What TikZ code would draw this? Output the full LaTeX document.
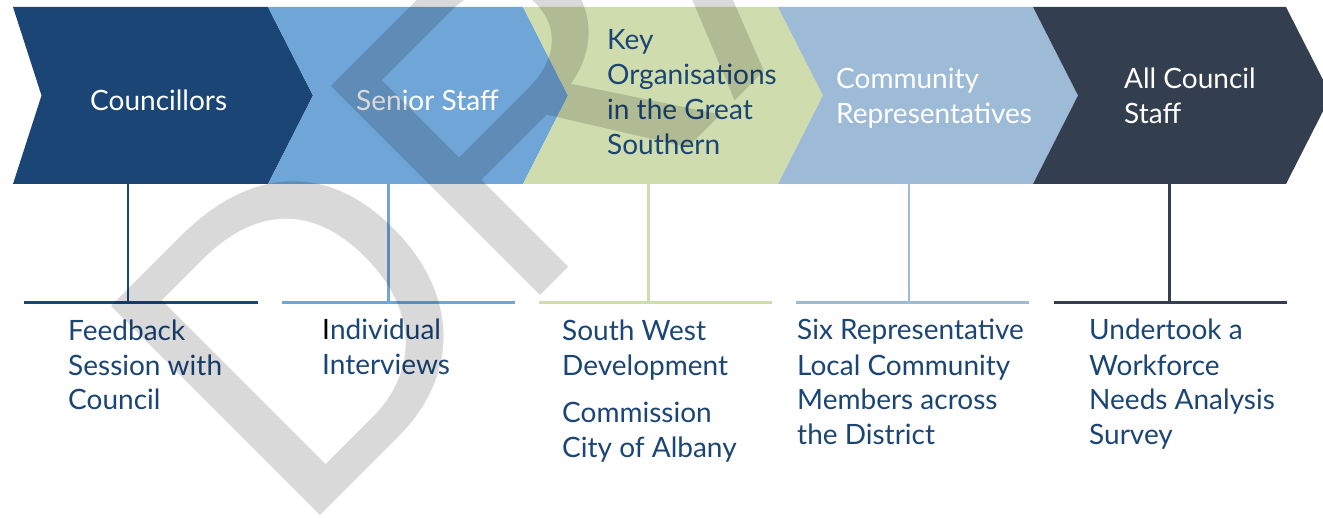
\documentclass[tikz,border=0pt]{standalone}
\usepackage{fontspec}
\setmainfont{Lato}
\newfontfamily\wmfont{Liberation Sans}
\definecolor{cone}{HTML}{1B4575}
\definecolor{ctwo}{HTML}{6FA5D7}
\definecolor{cthree}{HTML}{CFDCAE}
\definecolor{cfour}{HTML}{9DBAD6}
\definecolor{cfive}{HTML}{333F4F}
\definecolor{navy}{HTML}{1B4575}
\begin{document}
\begin{tikzpicture}[x=1pt,y=-1pt,
  lbl/.style={anchor=base west, inner sep=0pt, align=left, font=\fontsize{28}{35}\selectfont},
  stem/.style={line width=2.6pt},
  bar/.style={line width=3pt},
  wmark/.style={inner sep=0pt, anchor=base west, rotate=45, text=black, opacity=0.15, font=\wmfont\fontsize{430}{430}\selectfont}]
\useasboundingbox (0,0) rectangle (1323,518);
\clip (0,0) rectangle (1323,518);
% chevrons
\fill[cone]   (13,7) -- (268,7) -- (313,95.5) -- (268,184) -- (13,184) -- (41.5,95.5) -- cycle;
\fill[ctwo]   (268,7) -- (523,7) -- (568,95.5) -- (523,184) -- (268,184) -- (313,95.5) -- cycle;
\fill[cthree] (523,7) -- (778,7) -- (823,95.5) -- (778,184) -- (523,184) -- (568,95.5) -- cycle;
\fill[cfour]  (778,7) -- (1033,7) -- (1078,95.5) -- (1033,184) -- (778,184) -- (823,95.5) -- cycle;
\fill[cfive]  (1033,7) -- (1286,7) -- (1331,95.5) -- (1286,184) -- (1033,184) -- (1078,95.5) -- cycle;
% chevron labels (anchored at the baseline of the last line)
\node[lbl, text=white] (h1) at (90,111) {Councillors};
\node[lbl, text=white] (h2) at (356,111) {Senior Staff};
\node[lbl, text=navy]  (h3) at (607,155) {Key\\Organisations\\in the Great\\Southern};
\node[lbl, text=white] (h4) at (836,123.5) {Community\\Representatives};
\node[lbl, text=white] (h5) at (1124,123.5) {All Council\\Staff};
% connector coordinates
\coordinate (t1) at (128,183);  \coordinate (j1) at (128,302.5);
\coordinate (t2) at (388.3,183);  \coordinate (j2) at (388.3,302.5);
\coordinate (t3) at (648.6,183);  \coordinate (j3) at (648.6,302.5);
\coordinate (t4) at (909,183);  \coordinate (j4) at (909,302.5);
\coordinate (t5) at (1169.5,183); \coordinate (j5) at (1169.5,302.5);
\coordinate (l1) at (24,302.5);   \coordinate (r1) at (257.5,302.5);
\coordinate (l2) at (281.5,302.5);  \coordinate (r2) at (514.5,302.5);
\coordinate (l3) at (539,302.5);  \coordinate (r3) at (772,302.5);
\coordinate (l4) at (796,302.5);  \coordinate (r4) at (1029,302.5);
\coordinate (l5) at (1053.5,302.5); \coordinate (r5) at (1286.5,302.5);
\draw[stem, cone]   (t1) -- (j1);
\draw[stem, ctwo]   (t2) -- (j2);
\draw[stem, cthree] (t3) -- (j3);
\draw[stem, cfour]  (t4) -- (j4);
\draw[stem, cfive]  (t5) -- (j5);
\draw[bar, cone]   (l1) -- (r1);
\draw[bar, ctwo]   (l2) -- (r2);
\draw[bar, cthree] (l3) -- (r3);
\draw[bar, cfour]  (l4) -- (r4);
\draw[bar, cfive]  (l5) -- (r5);
% descriptions (anchored at the baseline of the last line)
\node[lbl, text=navy] (d1) at (68,410) {Feedback\\Session with\\Council};
\node[lbl, text=navy] (d2) at (322,375) {{\color{black}I}ndividual\\Interviews};
\node[lbl, text=navy] (d3) at (562,457) {South West\\Development\\[12pt]Commission\\City of Albany};
\node[lbl, text=navy] (d4) at (797,445) {Six Representative\\Local Community\\Members across\\the District};
\node[lbl, text=navy] (d5) at (1089,445) {Undertook a\\Workforce\\Needs Analysis\\Survey};
% watermark
\node[wmark] (wm) at (295.7,540.3) {DRAFT};
\end{tikzpicture}
\end{document}
